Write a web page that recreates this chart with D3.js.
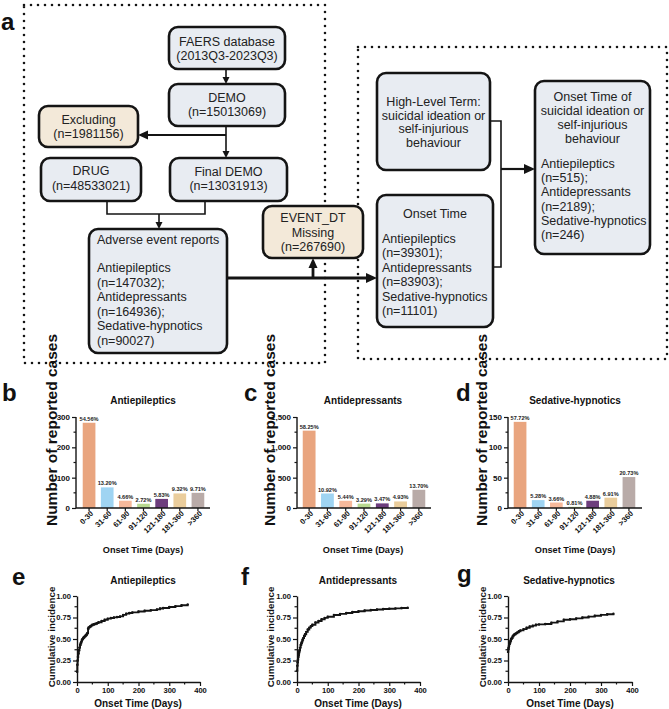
<!DOCTYPE html>
<html><head><meta charset="utf-8">
<script src="https://cdn.jsdelivr.net/npm/d3@7"></script>
<style>body{margin:0;background:#fff}svg{display:block;font-family:"Liberation Sans",Arial,sans-serif}</style>
</head><body><svg id="c" width="669" height="709"></svg>
<script>
// ---------- data ----------
const categories = ["0-30","31-60","61-90","91-120","121-180","181-360",">360"];
const barColors = ["#e9a57f","#9fd4f2","#f7b99b","#b8d98f","#6d3d7d","#eacd9c","#b9aba8"];
const antiepilepticsCounts = [281,68,24,14,30,48,50];
const antiepilepticsPct = ["54.56%","13.20%","4.66%","2.72%","5.83%","9.32%","9.71%"];
const antidepressantsCounts = [1275,239,119,72,76,108,300];
const antidepressantsPct = ["58.25%","10.92%","5.44%","3.29%","3.47%","4.93%","13.70%"];
const sedativeCounts = [142,13,9,2,12,17,51];
const sedativePct = ["57.72%","5.28%","3.66%","0.81%","4.88%","6.91%","20.73%"];
const barTicksB = [0,100,200,300];
const barTicksC = [0,500,1000,1500];
const barTicksD = [0,50,100,150];
const cumTicks = [0,0.25,0.5,0.75,1];
const dayTicks = [0,100,200,300,400];

const eDays = [0,1,2,3,4,6,8,10,12,14,16,18,20,22,25,28,30,32,34,36,38,42,46,50,55,60,65,70,80,90,100,110,120,130,140,150,160,170,180,200,220,240,260,270,280,300,320,340,360];
const eCum = [0.12,0.2,0.25,0.29,0.33,0.37,0.4,0.43,0.45,0.47,0.49,0.5,0.51,0.52,0.53,0.54,0.546,0.56,0.57,0.62,0.635,0.645,0.655,0.665,0.672,0.678,0.685,0.695,0.71,0.724,0.737,0.745,0.751,0.755,0.763,0.78,0.795,0.803,0.81,0.82,0.828,0.836,0.845,0.855,0.86,0.872,0.882,0.892,0.903];
const fDays = [0,1,2,3,4,5,6,7,8,10,12,14,16,18,20,23,26,30,35,40,45,50,60,70,80,90,100,120,140,160,180,200,220,240,260,280,300,320,340,360];
const fCum = [0.13,0.19,0.23,0.26,0.29,0.31,0.33,0.35,0.37,0.4,0.43,0.45,0.47,0.49,0.51,0.535,0.555,0.583,0.61,0.632,0.65,0.665,0.692,0.71,0.73,0.746,0.758,0.779,0.792,0.803,0.814,0.823,0.831,0.837,0.843,0.848,0.852,0.856,0.86,0.863];
const gDays = [0,1,2,3,4,6,8,10,12,15,18,21,25,30,35,40,50,60,70,80,90,100,120,140,160,180,200,220,240,260,280,300,320,340];
const gCum = [0.35,0.38,0.4,0.42,0.44,0.46,0.48,0.5,0.51,0.53,0.545,0.555,0.565,0.577,0.59,0.6,0.615,0.63,0.645,0.655,0.667,0.67,0.675,0.69,0.705,0.724,0.73,0.74,0.75,0.76,0.77,0.78,0.787,0.793];

// ---------- flowchart ----------
const svg = d3.select("#c");
const INK = "#141414";
const BLUE = "#e8ecf2", BEIGE = "#f3e9d9";
const fg = svg.append("g");

function dotted(x,y,w,h){
  fg.append("rect").attr("x",x).attr("y",y).attr("width",w).attr("height",h)
    .attr("fill","none").attr("stroke",INK).attr("stroke-width",2.6)
    .attr("stroke-dasharray","0 7").attr("stroke-linecap","round");
}
dotted(24,5,301,358);
dotted(358,47,309,312);

function box(x,y,w,h,fill,centered,left){
  fg.append("rect").attr("x",x).attr("y",y).attr("width",w).attr("height",h)
    .attr("rx",9).attr("fill",fill).attr("stroke",INK).attr("stroke-width",2.6);
  (centered||[]).forEach(([t,cy])=>fg.append("text").attr("x",x+w/2).attr("y",cy+4.4)
    .attr("text-anchor","middle").attr("font-size",12.5).attr("fill","#222").text(t));
  if(left) left.lines.forEach(([t,cy])=>fg.append("text").attr("x",left.x).attr("y",cy+4.4)
    .attr("font-size",12.5).attr("fill","#222").text(t));
}
box(169,27,116,42,BLUE,[["FAERS database",42],["(2013Q3-2023Q3)",55.5]]);
box(169,84,116,42,BLUE,[["DEMO",97.5],["(n=15013069)",112]]);
box(39,106,99,41,BEIGE,[["Excluding",119.5],["(n=1981156)",134]]);
box(41,158,100,43,BLUE,[["DRUG",171],["(n=48533021)",185.5]]);
box(170,158,117,43,BLUE,[["Final DEMO",171.5],["(n=13031913)",186]]);
box(89,229,138,124,BLUE,null,{x:97,lines:[["Adverse event reports",240],["Antiepileptics",268],["(n=147032);",283],["Antidepressants",297],["(n=164936);",312],["Sedative-hypnotics",326],["(n=90027)",341]]});
box(263,206,100,52,BEIGE,[["EVENT_DT",218],["Missing",232.5],["(n=267690)",247]]);
box(377,73,113,97,BLUE,[["High-Level Term:",102],["suicidal ideation or",115.5],["self-injurious",129],["behaviour",143]]);
box(377,195,116,132,BLUE,[["Onset Time",214]],{x:382,lines:[["Antiepileptics",239],["(n=39301);",253],["Antidepressants",267.5],["(n=83903);",282],["Sedative-hypnotics",296.5],["(n=11101)",310.5]]});
box(535,81,115,173,BLUE,[["Onset Time of",97],["suicidal ideation or",111],["self-injurious",125],["behaviour",139]],{x:541,lines:[["Antiepileptics",163.5],["(n=515);",178],["Antidepressants",192],["(n=2189);",206.5],["Sedative-hypnotics",220.5],["(n=246)",235]]});

function connector(pts, sw, headLen, headW){
  const n = pts.length;
  let line = pts;
  if(headLen){
    const [x2,y2]=pts[n-1],[x1,y1]=pts[n-2];
    const L=Math.hypot(x2-x1,y2-y1), ux=(x2-x1)/L, uy=(y2-y1)/L;
    const bx=x2-ux*headLen, by=y2-uy*headLen;
    line = pts.slice(0,n-1).concat([[bx+ux,by+uy]]);
    fg.append("path").attr("d",`M${x2},${y2}L${bx-uy*headW/2},${by+ux*headW/2}L${bx+uy*headW/2},${by-ux*headW/2}Z`).attr("fill",INK);
  }
  fg.append("path").attr("d",d3.line()(line)).attr("fill","none").attr("stroke",INK).attr("stroke-width",sw);
}
connector([[226,69],[226,84]],1.6,7,7);
connector([[226,126],[226,158]],1.6,7,7);
connector([[226,135],[138,135]],2.2,10,9);
connector([[107,201],[107,214],[205,214],[205,201]],1.6);
connector([[159,214],[159,229]],1.6,7,7);
connector([[227,278],[377,278]],2.8,11,10);
connector([[313,278],[313,258]],2.8,10,9);
connector([[490,121],[501,121],[501,267],[493,267]],1.6);
connector([[501,169],[535,169]],2.2,11,10);

// panel letters
const letters = [["a",1,30],["b",2,401],["c",244,401],["d",456,401],["e",12,585],["f",241,585],["g",457,582]];
svg.selectAll("text.plab").data(letters).enter().append("text").attr("class","plab")
  .attr("x",d=>d[1]).attr("y",d=>d[2]).attr("font-size",24).attr("font-weight","bold").attr("fill","#111").text(d=>d[0]);

// ---------- bar panels ----------
function styleAxis(g, fs){
  g.selectAll(".domain").attr("stroke",INK).attr("stroke-width",1.4);
  g.selectAll(".tick line").attr("stroke",INK).attr("stroke-width",1.2);
  g.selectAll(".tick text").attr("font-family","Liberation Sans, Arial, sans-serif")
    .attr("font-size",fs).attr("font-weight","bold").attr("fill","#111");
}
function barPanel(o){
  const g = svg.append("g");
  const yMax = o.ticks[o.ticks.length-1];
  const y = d3.scaleLinear().domain([0,yMax]).range([508,417]);
  const x = d3.scaleBand().domain(categories).range([o.x0,o.x1]).paddingInner(0.3).paddingOuter(0.15);
  g.selectAll("rect.bar").data(o.counts).enter().append("rect").attr("class","bar")
    .attr("x",(d,i)=>x(categories[i])).attr("width",x.bandwidth())
    .attr("y",d=>y(d)).attr("height",d=>508-y(d)).attr("fill",(d,i)=>barColors[i]);
  g.selectAll("text.pct").data(o.counts).enter().append("text").attr("class","pct")
    .attr("x",(d,i)=>x(categories[i])+x.bandwidth()/2).attr("y",d=>y(d)-2)
    .attr("text-anchor","middle").attr("font-size",5.6).attr("font-weight","bold").attr("fill","#222")
    .text((d,i)=>o.pct[i]);
  const step = o.ticks[1]-o.ticks[0];
  const minor = d3.range(step/2, yMax, step);
  const ya = g.append("g").attr("transform",`translate(${o.ax},0)`)
    .call(d3.axisLeft(y).tickValues(o.ticks).tickSize(4).tickSizeOuter(0).tickPadding(2));
  styleAxis(ya,8);
  ya.select(".domain").attr("d",`M0,${y(yMax)}V508`);
  g.append("g").attr("transform",`translate(${o.ax},0)`).selectAll("line").data(minor).enter().append("line")
    .attr("x1",-2.5).attr("x2",0).attr("y1",d=>y(d)).attr("y2",d=>y(d)).attr("stroke",INK).attr("stroke-width",1.2);
  const xa = g.append("g").attr("transform","translate(0,508)")
    .call(d3.axisBottom(x).tickSize(3).tickSizeOuter(0));
  styleAxis(xa,7.6);
  xa.select(".domain").attr("d",`M${o.ax},0H${o.axEnd}`);
  xa.selectAll(".tick text").attr("transform","rotate(-45)").style("text-anchor","end")
    .attr("x",-1).attr("y",5).attr("dy","0.35em");
  g.append("text").attr("x",o.tx).attr("y",404).attr("text-anchor","middle").attr("font-size",10)
    .attr("font-weight","bold").attr("fill","#111").text(o.title);
  g.append("text").attr("transform",`translate(${o.yt},430) rotate(-90)`).attr("text-anchor","middle")
    .attr("dy","0.35em").attr("font-size",15.5).attr("font-weight","bold").attr("fill","#111").text("Number of reported cases");
  g.append("text").attr("x",o.xt).attr("y",553).attr("text-anchor","middle").attr("font-size",9.2)
    .attr("font-weight","bold").attr("fill","#111").text("Onset Time (Days)");
}
barPanel({counts:antiepilepticsCounts,pct:antiepilepticsPct,ticks:barTicksB,ax:76,axEnd:210,x0:80,x1:207,tx:143,yt:52,xt:143,title:"Antiepileptics"});
barPanel({counts:antidepressantsCounts,pct:antidepressantsPct,ticks:barTicksC,ax:297,axEnd:431,x0:300,x1:428,tx:363,yt:270,xt:363,title:"Antidepressants"});
barPanel({counts:sedativeCounts,pct:sedativePct,ticks:barTicksD,ax:508,axEnd:642,x0:511,x1:638,tx:575,yt:482,xt:575,title:"Sedative-hypnotics"});

// ---------- cumulative incidence panels ----------
function curvePanel(o){
  const g = svg.append("g");
  const x = d3.scaleLinear().domain([0,400]).range([o.x0,o.x1]);
  const y = d3.scaleLinear().domain([0,1]).range([682,596]);
  const ya = g.append("g").attr("transform",`translate(${o.x0},0)`)
    .call(d3.axisLeft(y).tickValues(cumTicks).tickFormat(d3.format(".2f")).tickSize(4).tickSizeOuter(0).tickPadding(2));
  styleAxis(ya,7.6);
  g.append("g").attr("transform",`translate(${o.x0},0)`).selectAll("line").data([0.125,0.375,0.625,0.875]).enter().append("line")
    .attr("x1",-2.5).attr("x2",0).attr("y1",d=>y(d)).attr("y2",d=>y(d)).attr("stroke",INK).attr("stroke-width",1.2);
  const xa = g.append("g").attr("transform","translate(0,682)")
    .call(d3.axisBottom(x).tickValues(dayTicks).tickSize(4).tickSizeOuter(0).tickPadding(2));
  styleAxis(xa,7.6);
  g.append("g").attr("transform","translate(0,682)").selectAll("line").data([50,150,250,350]).enter().append("line")
    .attr("x1",d=>x(d)).attr("x2",d=>x(d)).attr("y1",0).attr("y2",2.5).attr("stroke",INK).attr("stroke-width",1.2);
  const pts = o.days.map((d,i)=>[d,o.cum[i]]);
  g.append("path").datum(pts).attr("fill","none").attr("stroke",INK).attr("stroke-width",1.9)
    .attr("d",d3.line().x(d=>x(d[0])).y(d=>y(d[1])).curve(d3.curveStepAfter));
  g.selectAll("circle").data(pts).enter().append("circle").attr("cx",d=>x(d[0])).attr("cy",d=>y(d[1]))
    .attr("r",1.2).attr("fill",INK);
  g.append("text").attr("x",o.tx).attr("y",584).attr("text-anchor","middle").attr("font-size",10)
    .attr("font-weight","bold").attr("fill","#111").text(o.title);
  g.append("text").attr("transform",`translate(${o.yt},637) rotate(-90)`).attr("text-anchor","middle")
    .attr("dy","0.35em").attr("font-size",9.8).attr("font-weight","bold").attr("fill","#111").text("Cumulative incidence");
  g.append("text").attr("x",o.xt).attr("y",707).attr("text-anchor","middle").attr("font-size",10)
    .attr("font-weight","bold").attr("fill","#111").text("Onset Time (Days)");
}
curvePanel({days:eDays,cum:eCum,x0:77,x1:200,tx:143,yt:52,xt:138,title:"Antiepileptics"});
curvePanel({days:fDays,cum:fCum,x0:297,x1:420,tx:358,yt:271,xt:358,title:"Antidepressants"});
curvePanel({days:gDays,cum:gCum,x0:508,x1:632,tx:569,yt:483,xt:570,title:"Sedative-hypnotics"});
</script>
</body></html>
